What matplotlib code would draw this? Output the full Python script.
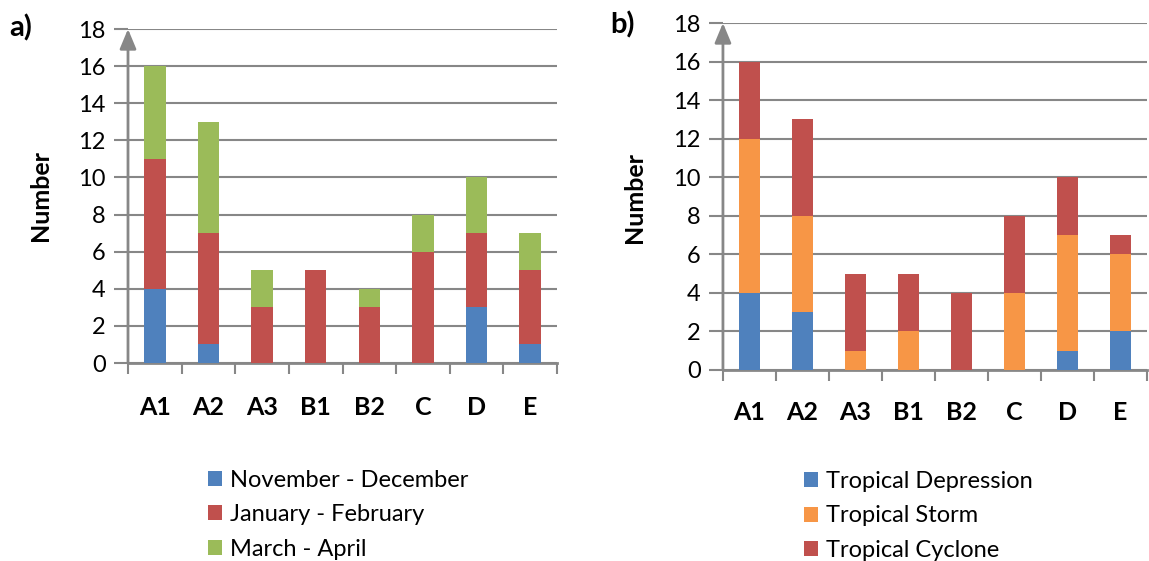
import matplotlib
matplotlib.use("Agg")
from matplotlib import pyplot as plt
from matplotlib.patches import Patch
import numpy as np

plt.rcParams['font.family'] = ['Lato', 'DejaVu Sans']

sites = ['A1', 'A2', 'A3', 'B1', 'B2', 'C', 'D', 'E']

# panel a) by season
nov_dec = [4, 1, 0, 0, 0, 0, 3, 1]
jan_feb = [7, 6, 3, 5, 3, 6, 4, 4]
mar_apr = [5, 6, 2, 0, 1, 2, 3, 2]
season_labels = ['November - December', 'January - February', 'March - April']

# panel b) by intensity
depression = [4, 3, 0, 0, 0, 0, 1, 2]
storm = [8, 5, 1, 2, 0, 4, 6, 4]
cyclone = [4, 5, 4, 3, 4, 4, 3, 1]
intensity_labels = ['Tropical Depression', 'Tropical Storm', 'Tropical Cyclone']

blue = '#4F81BD'
red = '#C0504D'
green = '#9BBB59'
orange = '#F79646'
grey = '#878787'

fig = plt.figure(figsize=(11.49, 5.61), dpi=100)
ax_a = fig.add_axes([0.1114, 0.3529, 0.3734, 0.5954])
ax_b = fig.add_axes([0.6292, 0.3405, 0.3690, 0.6185])


def stacked(ax, series, colors, labels, leg_x, leg_y, panel, panel_xy, ylab_xy, xpad):
    x = np.arange(len(sites))
    bottom = np.zeros(len(sites))
    for vals, col in zip(series, colors):
        ax.bar(x, vals, width=0.4, bottom=bottom, color=col, zorder=3)
        bottom += np.array(vals)

    ax.set_xlim(-0.5, len(sites) - 0.5)
    ax.set_ylim(0, 18)
    ax.set_yticks(range(0, 19, 2))
    ax.yaxis.grid(True, color=grey, lw=1.5, zorder=0)
    ax.set_axisbelow(True)

    ax.set_xticks(x)
    ax.set_xticklabels(sites, fontweight='bold', fontsize=18)
    ax.set_xticks(np.arange(-0.5, len(sites)), minor=True)
    ax.tick_params(axis='x', which='major', length=0, pad=xpad)
    ax.tick_params(axis='x', which='minor', length=8, width=1.5, color=grey)
    ax.tick_params(axis='y', length=10, width=1.5, color=grey, labelsize=17, pad=6)

    for s in ['top', 'right', 'left']:
        ax.spines[s].set_visible(False)
    ax.spines['bottom'].set_color(grey)
    ax.spines['bottom'].set_linewidth(2)

    # y axis drawn as an arrow
    ax.annotate('', xy=(0, 1), xytext=(0, 0), xycoords='axes fraction',
                arrowprops=dict(arrowstyle='-|>,head_length=1.2,head_width=0.5',
                                color=grey, lw=2, shrinkA=0, shrinkB=0),
                annotation_clip=False, zorder=5)

    fig.text(ylab_xy[0], ylab_xy[1], 'Number', rotation=90, fontweight='bold',
             fontsize=18, ha='center', va='center')
    fig.text(panel_xy[0], panel_xy[1], panel, fontweight='bold', fontsize=21,
             ha='left', va='center')

    handles = [Patch(facecolor=c, edgecolor='none') for c in colors]
    fig.legend(handles, labels, loc='upper left', bbox_to_anchor=(leg_x, leg_y),
               frameon=False, fontsize=17, handlelength=0.6, handleheight=0.6,
               handletextpad=0.35, labelspacing=0.58, borderpad=0)


stacked(ax_a, [nov_dec, jan_feb, mar_apr], [blue, red, green], season_labels,
        0.1705, 0.184, 'a)', (0.008, 0.951), (0.035, 0.652), 24)
stacked(ax_b, [depression, storm, cyclone], [blue, orange, red], intensity_labels,
        0.6895, 0.182, 'b)', (0.531, 0.955), (0.552, 0.648), 22)

fig.savefig('out.png', dpi=100)
